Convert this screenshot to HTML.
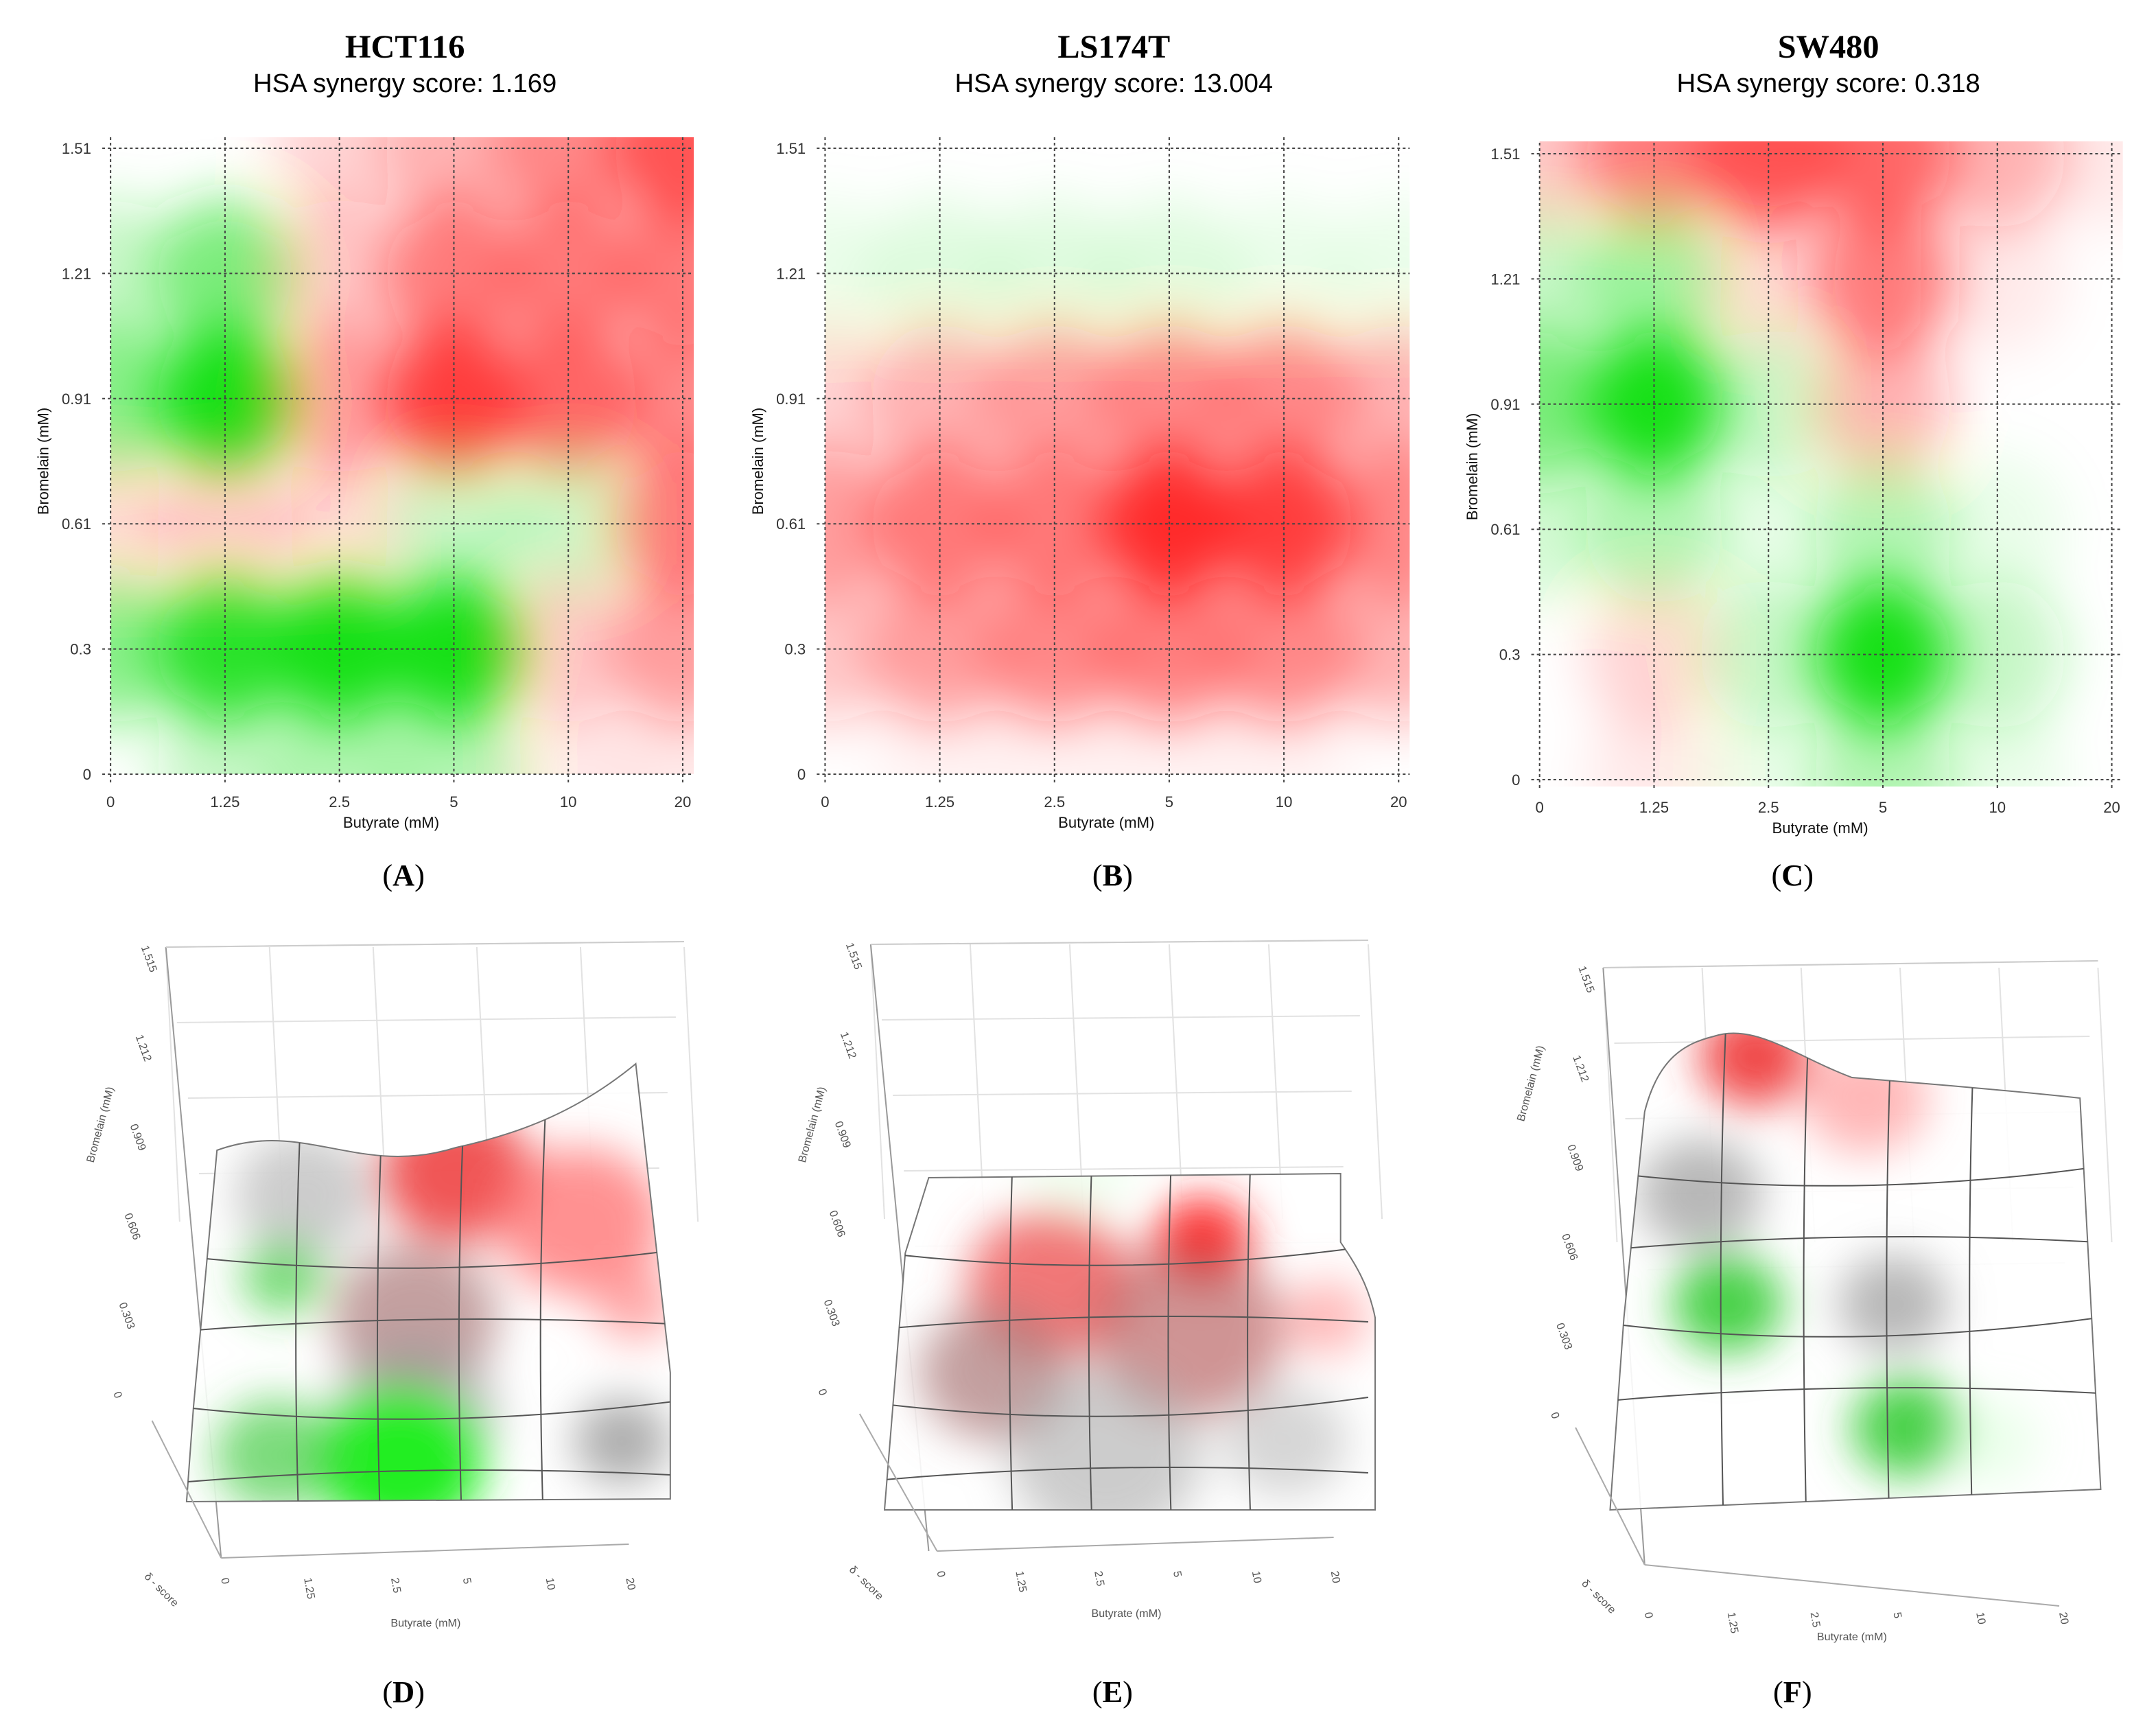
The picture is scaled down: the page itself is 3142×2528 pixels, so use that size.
<!DOCTYPE html>
<html><head><meta charset="utf-8"><style>
html,body{margin:0;padding:0;background:#fff;}
svg{display:block;}
text{font-family:"Liberation Sans",sans-serif;}
.ttl{font-family:"Liberation Serif",serif;font-weight:bold;font-size:24px;}
.sub{font-size:19px;}
.tick{font-size:11px;fill:#333;}
.alab{font-size:11px;fill:#111;}
.pl{font-family:"Liberation Serif",serif;font-size:22px;}
.t3{font-size:8px;fill:#555;}
</style></head><body>
<svg id="fig" width="3142" height="2528" viewBox="0 0 1560 1264" preserveAspectRatio="none" xmlns="http://www.w3.org/2000/svg">
<defs>
<filter id="bl" x="-20%" y="-20%" width="140%" height="140%"><feGaussianBlur stdDeviation="20"/></filter>
<filter id="bl2" x="-30%" y="-30%" width="160%" height="160%"><feGaussianBlur stdDeviation="16"/></filter>
<clipPath id="cA"><rect x="80" y="100" width="422" height="464"/></clipPath>
<clipPath id="cB"><rect x="597" y="100" width="423" height="464"/></clipPath>
<clipPath id="cC"><rect x="1114" y="103" width="422" height="470"/></clipPath>
<clipPath id="sD"><path d="M157,838 C220,815 260,858 330,836 C380,825 420,808 460,775 L485,1000 L485,1092 L135,1094 L140,1025 Z"/></clipPath>
<clipPath id="sE"><path d="M672,858 L970,855 L970,905 C980,920 990,935 995,960 L995,1100 L640,1100 L655,913 Z"/></clipPath>
<clipPath id="sF"><path d="M1190,810 C1200,770 1220,760 1240,755 C1270,745 1300,770 1340,785 C1400,790 1460,795 1505,800 L1520,1085 L1165,1100 L1175,960 Z"/></clipPath>
</defs>
<g id="root"></g>
</svg>
<script>
const xCats=["0","1.25","2.5","5","10","20"];
const yCats=["1.51","1.21","0.91","0.61","0.3","0"];
// synergy values, rows top (1.51) to bottom (0), cols Butyrate 0..20
const valsA=[[0,0,4,8,12,18],[-6,-14,6,14,14,14],[-12,-26,10,20,16,12],[4,6,4,-6,-6,14],[-12,-22,-26,-26,6,10],[0,-6,-8,-8,2,2]];
const valsB=[[0,0,0,0,0,0],[-2,-3,-3,-3,-2,-2],[4,8,10,12,12,8],[10,14,14,22,20,12],[6,10,12,13,12,8],[0,1,1,1,1,0]];
const valsC=[[6,14,18,16,8,2],[-6,-10,4,14,2,0],[-14,-26,-6,8,0,0],[-4,-8,-2,-8,-2,0],[0,4,-6,-24,-6,0],[0,2,-2,-8,-2,0]];
const titles=["HCT116","LS174T","SW480"];
const scores=["1.169","13.004","0.318"];
const NS="http://www.w3.org/2000/svg";
const root=document.getElementById('root');
function mk(tag,attrs,parent,txt){const e=document.createElementNS(NS,tag);for(const k in attrs)e.setAttribute(k,attrs[k]);if(txt!==undefined)e.textContent=txt;(parent||root).appendChild(e);return e;}
function col(v){return v>=0?'rgb(255,25,25)':'rgb(25,225,25)';}
function op(v){return Math.min(1,Math.abs(v)/24);}
const panels=[{x0:80,x1:494,y0:108,y1:564,vals:valsA,clip:'cA',cx:291},{x0:597,x1:1012,y0:108,y1:564,vals:valsB,clip:'cB',cx:804},{x0:1114,x1:1528,y0:112,y1:568,vals:valsC,clip:'cC',cx:1321}];
const letters=["A","B","C","D","E","F"];
panels.forEach((p,k)=>{
  const xs=i=>p.x0+(p.x1-p.x0)*i/(xCats.length-1);
  const ys=i=>p.y0+(p.y1-p.y0)*i/(yCats.length-1);
  const dx=(p.x1-p.x0)/5, dy=(p.y1-p.y0)/5;
  const g=mk('g',{'clip-path':'url(#'+p.clip+')'});
  
  
  const gb=mk('g',{filter:'url(#bl)'},g);
  p.vals.forEach((row,i)=>row.forEach((v,j)=>{
    const r=mk('ellipse',{cx:xs(j),cy:ys(i),rx:dx*0.6,ry:dy*0.6,fill:col(v),'fill-opacity':op(v)},gb);
    
    
  }));
  for(let i=0;i<6;i++){
    mk('line',{x1:xs(i),x2:xs(i),y1:p.y0-8,y2:p.y1+6,stroke:'#444','stroke-width':1,'stroke-dasharray':'2,2'});
    mk('line',{x1:p.x0-6,x2:p.x1+8,y1:ys(i),y2:ys(i),stroke:'#444','stroke-width':1,'stroke-dasharray':'2,2'});
    const tx=mk('text',{x:xs(i),y:p.y1+24,'text-anchor':'middle',class:'tick'},null,xCats[i]);
    
    
    const ty=mk('text',{x:p.x0-14,y:ys(i)+4,'text-anchor':'end',class:'tick'},null,yCats[i]);
    
    
  }
  const xl=mk('text',{x:(p.x0+p.x1)/2-4,y:p.y1+39,'text-anchor':'middle',class:'alab'},null,'Butyrate (mM)');
  
  
  const yl=mk('text',{x:0,y:0,'text-anchor':'middle',class:'alab',transform:`translate(${p.x0-45},${(p.y0+p.y1)/2}) rotate(-90)`},null,'Bromelain (mM)');
  
  
  const t=mk('text',{x:p.cx+2,y:42,'text-anchor':'middle',class:'ttl'},null,titles[k]);
  
  
  const s=mk('text',{x:p.cx+2,y:67,'text-anchor':'middle',class:'sub'},null,'HSA synergy score: '+scores[k]);
  
  
});
const lx=[292,805,1297];
letters.forEach((l,i)=>{
  const x=lx[i%3], y=i<3?645:1240;
  const e=mk('text',{x:x,y:y,'text-anchor':'middle',class:'pl'});
  
  
  mk('tspan',{},e,'(');mk('tspan',{'font-weight':'bold'},e,l);mk('tspan',{},e,')');
});
const p3=[
 {clip:'sD',frame:[[120,690],[495,686]],wallX:[120,160],base:[[160,1135],[455,1125]],bx:[160,220,283,335,395,453],by:1150,lab:[308,1185],brom:[75,820],meshY:860,
  blobs:[[220,870,50,'#aaa',0.6],[205,930,30,'#3c3',0.7],[330,855,55,'#e44',0.9],[420,890,60,'#f77',0.8],[300,960,60,'#a77',0.7],[300,1030,60,'#999',0.6],[290,1065,60,'#2e2',1],[200,1060,45,'#4c4',0.7],[450,1050,35,'#999',0.8],[460,950,30,'#f88',0.7]]},
 {clip:'sE',frame:[[630,688],[990,685]],wallX:[630,672],base:[[678,1130],[965,1120]],bx:[678,735,792,849,906,963],by:1145,lab:[815,1178],brom:[590,820],meshY:858,
  blobs:[[870,905,35,'#f22',1],[760,935,60,'#e55',0.8],[720,1000,55,'#a77',0.7],[860,970,70,'#b66',0.7],[800,1060,70,'#aaa',0.6],[930,1050,45,'#bbb',0.6],[960,960,30,'#f88',0.6],[780,850,40,'#dfd',0.4]]},
 {clip:'sF',frame:[[1160,705],[1518,700]],wallX:[1160,1190],base:[[1190,1140],[1490,1170]],bx:[1190,1250,1310,1370,1430,1490],by:1175,lab:[1340,1195],brom:[1110,790],meshY:800,
  blobs:[[1270,770,40,'#e33',0.9],[1350,800,45,'#f99',0.7],[1230,870,45,'#999',0.7],[1250,950,40,'#3c3',0.9],[1370,950,40,'#999',0.7],[1380,1040,40,'#3c3',0.9],[1440,1050,35,'#cfc',0.4]]}
];
p3.forEach((q,k)=>{
  const g=mk('g',{});
  
  
  for(let i=0;i<5;i++){const y=q.frame[0][1]+i*55;mk('line',{x1:q.wallX[0]+i*8,y1:y,x2:q.frame[1][0]-i*6,y2:q.frame[1][1]+i*55,stroke:'#e2e2e2'},g);}
  for(let i=0;i<6;i++){const x=q.frame[0][0]+(q.frame[1][0]-q.frame[0][0])*i/5;mk('line',{x1:x,y1:q.frame[0][1],x2:x+10,y2:q.frame[0][1]+200,stroke:'#e2e2e2'},g);}
  mk('line',{x1:q.wallX[0],y1:q.frame[0][1],x2:q.wallX[1],y2:q.base[0][1],stroke:'#999'},g);
  mk('line',{x1:q.wallX[0],y1:q.frame[0][1],x2:q.frame[1][0],y2:q.frame[1][1],stroke:'#ccc'},g);
  const sg=mk('g',{'clip-path':'url(#'+q.clip+')'},g);
  mk('rect',{x:0,y:600,width:1560,height:600,fill:'#fff','fill-opacity':0.9},sg);
  const bg=mk('g',{filter:'url(#bl2)'},sg);
  q.blobs.forEach(b=>mk('ellipse',{cx:b[0],cy:b[1],rx:b[2],ry:b[2]*0.9,fill:b[3],'fill-opacity':b[4]},bg));
  mk('path',{d:document.getElementById(q.clip).firstElementChild.getAttribute('d'),fill:'none',stroke:'#777','stroke-width':1},g);
  const bb=q.base;
  for(let i=1;i<5;i++){const y=q.meshY+i*55;mk('path',{d:`M${q.wallX[0]+10},${y} Q${(q.wallX[0]+q.frame[1][0])/2},${y+(i%2?20:-15)} ${q.frame[1][0]},${y-5}`,fill:'none',stroke:'#555','stroke-width':1,'clip-path':'url(#'+q.clip+')'},g);}
  for(let i=1;i<5;i++){const x=bb[0][0]+(bb[1][0]-bb[0][0])*i/5;mk('path',{d:`M${x},${q.meshY-80} Q${x-8},${q.meshY+80} ${x-3},${bb[0][1]-30}`,fill:'none',stroke:'#555','stroke-width':1,'clip-path':'url(#'+q.clip+')'},g);}
  mk('line',{x1:bb[0][0],y1:bb[0][1],x2:bb[1][0],y2:bb[1][1],stroke:'#aaa'},g);
  mk('line',{x1:q.wallX[1]-50,y1:bb[0][1]-100,x2:bb[0][0],y2:bb[0][1],stroke:'#aaa'},g);
  xCats.forEach((c,i)=>{
    const e=mk('text',{x:0,y:0,class:'t3',transform:`translate(${q.bx[i]},${q.by}) rotate(80)`},g,c);
    
    
  });
  ["1.515","1.212","0.909","0.606","0.303","0"].forEach((c,i)=>{
    const e=mk('text',{x:0,y:0,class:'t3',transform:`translate(${q.wallX[0]-18+i*-4},${q.frame[0][1]+i*65}) rotate(70)`},g,c);
    
    
  });
  const xl=mk('text',{x:q.lab[0],y:q.lab[1],'text-anchor':'middle',class:'t3','font-size':9},g,'Butyrate (mM)');
  
  
  const yl=mk('text',{x:0,y:0,'text-anchor':'middle',class:'t3','font-size':9,transform:`translate(${q.brom[0]},${q.brom[1]}) rotate(-75)`},g,'Bromelain (mM)');
  
  
  const zl=mk('text',{x:0,y:0,'text-anchor':'middle',class:'t3','font-size':9,transform:`translate(${q.wallX[0]-5},${bb[0][1]+25}) rotate(45)`},g,'δ - score');
  
  
});
</script>
</body></html>
